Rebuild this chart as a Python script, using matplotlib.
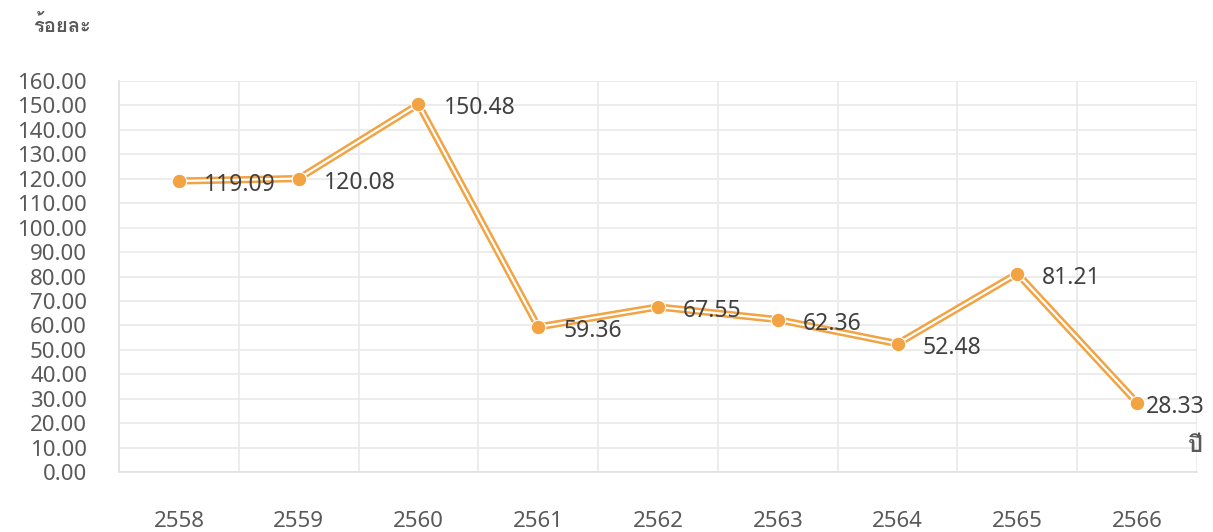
import matplotlib
matplotlib.use("Agg")
import matplotlib.pyplot as plt
import numpy as np

# percentage by Buddhist-era year
years = ["2558", "2559", "2560", "2561", "2562", "2563", "2564", "2565", "2566"]
values = [119.09, 120.08, 150.48, 59.36, 67.55, 62.36, 52.48, 81.21, 28.33]
y_ticks = list(range(0, 161, 10))

orange = "#F2A343"
grid_c = "#E9E9E9"

plt.rcParams["font.family"] = ["Noto Sans", "Loma", "DejaVu Sans"]

fig = plt.figure(figsize=(12.13, 5.32), dpi=100)
ax = fig.add_axes([0.0981, 0.1128, 0.8887, 0.7349])

x = np.arange(len(years))
# double line: thick orange with a thin white core
ax.plot(x, values, color=orange, lw=5.2, solid_capstyle="butt", zorder=3)
ax.plot(x, values, color="white", lw=1.6, solid_capstyle="butt", zorder=4)
ax.plot(x, values, ls="none", marker="o", ms=10.5, mfc=orange,
        mec="white", mew=0.8, zorder=5)

for i, (xi, v) in enumerate(zip(x, values)):
    # last label is pulled in so it stays inside the figure
    dx = 6 if i == len(values) - 1 else 18
    ax.annotate(f"{v:.2f}", (xi, v), xytext=(dx, -3), textcoords="offset points",
                ha="left", va="center", fontsize=16.5, color="#404040", zorder=6)

ax.set_xlim(-0.5, len(years) - 0.5)
ax.set_ylim(0, 160)
ax.set_yticks(y_ticks)
ax.set_yticklabels([f"{t:.2f}" for t in y_ticks])
ax.set_xticks(x)
ax.set_xticklabels(years)
ax.set_xticks(np.arange(-0.5, len(years), 1), minor=True)

ax.grid(axis="y", which="major", color=grid_c, lw=1.2)
ax.grid(axis="x", which="minor", color=grid_c, lw=1.2)
ax.set_axisbelow(True)
for s in ["top", "right"]:
    ax.spines[s].set_visible(False)
for s in ["left", "bottom"]:
    ax.spines[s].set_color("#E0E0E0")
    ax.spines[s].set_linewidth(1.2)

ax.tick_params(axis="both", which="both", length=0, labelsize=16, colors="#595959")
ax.tick_params(axis="y", pad=23)
ax.tick_params(axis="x", pad=28)

fig.text(33 / 1213, 1 - 25 / 532, "ร้อยละ", family=["Loma"], fontsize=14.5,
         fontweight="bold", color="#595959", ha="left", va="center")
fig.text(1203 / 1213, 1 - 445 / 532, "ปี", family=["Loma"], fontsize=17,
         fontweight="bold", color="#595959", ha="right", va="center")

fig.savefig("out.png", dpi=100)
